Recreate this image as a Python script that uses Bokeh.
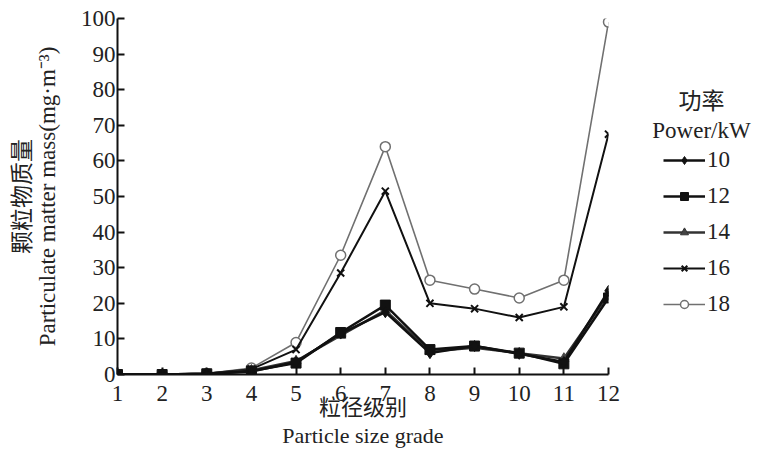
from bokeh.plotting import figure
from bokeh.models import Range1d, FixedTicker, Legend, LegendItem, Label
from bokeh.layouts import row
from bokeh.embed import file_html
from bokeh.resources import INLINE

grades = [1, 2, 3, 4, 5, 6, 7, 8, 9, 10, 11, 12]
p10 = [0, 0, 0.2, 0.8, 3.5, 11.5, 17.5, 6.0, 8.0, 5.8, 3.5, 23.5]
p12 = [0, 0, 0.2, 1.0, 3.2, 11.8, 19.5, 7.0, 8.0, 6.0, 3.0, 21.5]
p14 = [0, 0, 0.2, 1.2, 3.8, 11.0, 18.0, 6.5, 7.5, 6.0, 4.5, 22.5]
p16 = [0, 0, 0.3, 1.5, 7.0, 28.5, 51.5, 20.0, 18.5, 16.0, 19.0, 67.5]
p18 = [0, 0, 0.3, 1.8, 9.0, 33.5, 64.0, 26.5, 24.0, 21.5, 26.5, 99.0]
power_labels = ["10", "12", "14", "16", "18"]
legend_title = ["功率", "Power/kW"]
y_ticks = [0, 10, 20, 30, 40, 50, 60, 70, 80, 90, 100]

SERIF = "'Liberation Serif', 'Noto Sans CJK SC', serif"
FS = "23px"

p = figure(width=626, height=460, x_range=Range1d(1, 12), y_range=Range1d(0, 100),
           output_backend="svg", toolbar_location=None,
           min_border_left=117, min_border_right=18, min_border_top=18, min_border_bottom=86)
p.outline_line_color = None
p.xgrid.visible = False
p.ygrid.visible = False

for ax in (p.xaxis[0], p.yaxis[0]):
    ax.major_tick_in = 7
    ax.major_tick_out = 0
    ax.minor_tick_line_color = None
    ax.axis_line_width = 2
    ax.major_tick_line_width = 2
    ax.axis_line_color = "#111111"
    ax.major_tick_line_color = "#111111"
    ax.major_label_text_font = SERIF
    ax.major_label_text_font_size = FS
    ax.major_label_text_color = "#222222"
    ax.axis_label_text_font = SERIF
    ax.axis_label_text_font_style = "normal"
    ax.axis_label_text_color = "#222222"

p.xaxis[0].axis_label_text_font_size = "22px"
p.xaxis[0].axis_label_text_line_height = 1.15
p.yaxis[0].axis_label_text_font_size = "23px"
p.yaxis[0].axis_label_text_line_height = 1.0

p.xaxis[0].ticker = FixedTicker(ticks=grades)
p.yaxis[0].ticker = FixedTicker(ticks=y_ticks)
p.xaxis[0].major_label_standoff = 11
p.yaxis[0].major_label_standoff = 2
p.xaxis[0].axis_label = "粒径级别\nParticle size grade"
p.yaxis[0].axis_label = "颗粒物质量\nParticulate matter mass(mg·m⁻³)"
p.xaxis[0].axis_label_standoff = -9
p.yaxis[0].axis_label_standoff = 18

# draw order: upper series first, lower series on top
p.line(grades, p18, line_color="#707070", line_width=1.6)
p.scatter(grades, p18, marker="circle", size=10, fill_color="white", line_color="#707070", line_width=1.5)
p.line(grades, p16, line_color="#111111", line_width=2)
p.scatter(grades, p16, marker="x", size=10, line_color="#111111", line_width=2)
p.line(grades, p14, line_color="#333333", line_width=2.5)
p.scatter(grades, p14, marker="triangle", size=10, fill_color="#444444", line_color="#444444")
p.line(grades, p12, line_color="#111111", line_width=2.5)
p.scatter(grades, p12, marker="square", size=10, fill_color="#111111", line_color="#111111")
p.line(grades, p10, line_color="#111111", line_width=2.5)
p.scatter(grades, p10, marker="diamond", size=11, fill_color="#111111", line_color="#111111")

# legend panel: separate figure to the right; its frame lines up with the main frame
q = figure(width=133, height=460, x_range=Range1d(0, 133), y_range=Range1d(0, 100),
           x_axis_type=None, y_axis_type=None,
           output_backend="svg", toolbar_location=None, min_border=0)
q.xgrid.visible = False
q.ygrid.visible = False
q.outline_line_color = None

specs = [
    dict(marker="diamond", size=9, fill="#111111", line="#111111", lw=2.5, mlw=1),
    dict(marker="square", size=9, fill="#111111", line="#111111", lw=2.5, mlw=1),
    dict(marker="triangle", size=9, fill="#444444", line="#333333", lw=2.5, mlw=1),
    dict(marker="x", size=9, fill=None, line="#111111", lw=2, mlw=2),
    dict(marker="circle", size=9, fill="white", line="#707070", lw=1.6, mlw=1.5),
]
nan = float("nan")
items = []
for lab, s in zip(power_labels, specs):
    rl = q.line([nan], [nan], line_color=s["line"], line_width=s["lw"])
    rm = q.scatter([nan], [nan], marker=s["marker"], size=s["size"], fill_color=s["fill"],
                   line_color=s["line"], line_width=s["mlw"])
    items.append(LegendItem(label=lab, renderers=[rl, rm]))

legend = Legend(items=items, location=(37, 57))
legend.label_text_font = SERIF
legend.label_text_font_size = FS
legend.label_text_color = "#222222"
legend.border_line_color = None
legend.background_fill_alpha = 0
legend.glyph_width = 42
legend.glyph_height = 20
legend.label_standoff = 2
legend.spacing = 10
legend.margin = 0
legend.padding = 0
q.add_layout(legend)

q.add_layout(Label(x=75, y=76.8, text=legend_title[0], text_font=SERIF, text_font_size=FS,
                   text_color="#222222", text_align="center", text_baseline="middle"))
q.add_layout(Label(x=75, y=68.4, text=legend_title[1], text_font=SERIF, text_font_size=FS,
                   text_color="#222222", text_align="center", text_baseline="middle"))

open("out.html", "w").write(file_html(row(p, q), INLINE))
